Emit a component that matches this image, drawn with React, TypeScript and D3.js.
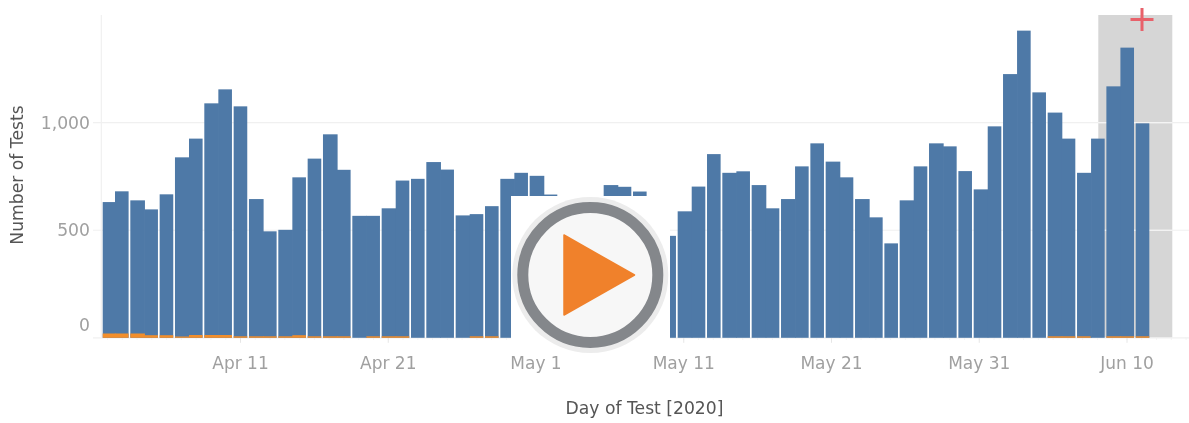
import React from "react";
import * as d3 from "d3";

const negativeTests = [631,681,639,597,667,839,926,1090,1155,1076,645,495,502,746,833,946,781,567,567,602,731,739,817,782,569,575,612,739,767,753,666,640,630,620,710,702,680,560,474,588,703,854,767,774,710,602,645,797,904,819,746,645,560,439,639,797,904,890,775,690,983,1226,1428,1141,1047,926,767,926,1169,1349,997];
const positiveTests = [20,20,20,12,12,6,13,13,13,7,7,7,7,12,7,7,7,0,7,7,7,0,0,0,0,7,7,0,0,0,0,0,0,0,0,0,0,0,0,0,0,0,0,0,0,0,0,0,0,0,0,0,0,0,0,0,0,0,0,0,0,0,0,0,7,7,7,0,7,7,7];
const firstDay = new Date(2020, 3, 2);
const days = negativeTests.map((_, i) => d3.timeDay.offset(firstDay, i));
const yTicks = [0, 500, 1000];
const xTickDates = [new Date(2020,3,11), new Date(2020,3,21), new Date(2020,4,1), new Date(2020,4,11), new Date(2020,4,21), new Date(2020,4,31), new Date(2020,5,10)];

const BLUE = "#4e79a7";
const ORANGE = "#f28e2b";
const FONT = "'DejaVu Sans', sans-serif";

export default function App() {
  const y = d3.scaleLinear().domain([0, 1000]).range([337.8, 122.7]);
  const x = d3.scaleTime().domain([xTickDates[0], xTickDates[6]]).range([240.5, 1127]);
  const grid = 1.2759;
  const slot = (i: number) => Math.round(0.64 + i * 11.592);
  const left = (i: number) => 99.69 + grid * slot(i);
  const barW = 13.6;
  const plotLeft = 102.7;
  const fmt = d3.timeFormat("%b %-d");
  const minorDays = d3.timeDay.range(new Date(2020,3,2), new Date(2020,5,15));
  return (
    <svg width={1189} height={423} style={{ position: "absolute", left: 0, top: 0, filter: "blur(0.45px)" }} fontFamily={FONT}>
      <rect width={1189} height={423} fill="#fff" />
      <rect x={1098.3} y={15} width={74} height={y(0) - 15} fill="#d6d6d6" />
      {yTicks.map((t) => (
        <line key={t} x1={93} x2={1189} y1={y(t)} y2={y(t)} stroke="#f0f0f0" strokeWidth={1.2} />
      ))}
      {yTicks.filter((t) => t > 0).map((t) => (
        <line key={t} x1={1098.3} x2={1172.3} y1={y(t)} y2={y(t)} stroke="#f4f4f4" strokeWidth={1.2} />
      ))}
      <line x1={101.3} x2={101.3} y1={15} y2={y(0)} stroke="#f0f0f0" strokeWidth={1.2} />
      {minorDays.map((d) => (
        <line key={+d} x1={x(d)} x2={x(d)} y1={y(0)} y2={y(0) + 2} stroke="#f2f2f2" />
      ))}
      {xTickDates.map((d) => (
        <line key={+d} x1={x(d)} x2={x(d)} y1={y(0)} y2={y(0) + 5} stroke="#e6e6e6" />
      ))}
      {days.map((d, i) => {
        const start = left(i);
        const l = Math.max(start, plotLeft);
        const touchesNext = i < days.length - 1 && slot(i + 1) - slot(i) === 11;
        const r = touchesNext ? left(i + 1) + 0.6 : start + barW;
        const w = r - l;
        return (
          <rect key={i} x={l} y={y(negativeTests[i])} width={w} height={y(0) - y(negativeTests[i])} fill={BLUE} />
        );
      })}
      {days.map((d, i) => {
        const start = left(i);
        const l = Math.max(start, plotLeft);
        const touchesNext = i < days.length - 1 && slot(i + 1) - slot(i) === 11 && positiveTests[i + 1] > 0;
        const r = touchesNext ? left(i + 1) + 0.6 : start + barW;
        const o = positiveTests[i];
        return o > 0 ? (
          <rect key={i} x={l} y={y(o)} width={r - l} height={y(0) - y(o)} fill={ORANGE} />
        ) : null;
      })}
      {yTicks.map((t) => (
        <text key={t} x={90} y={t === 0 ? y(t) - 13 : y(t)} dy="0.36em" textAnchor="end" fontSize={17.2} fill="#a0a0a0">{d3.format(",")(t)}</text>
      ))}
      {xTickDates.map((d) => (
        <text key={+d} x={x(d)} y={363} dy="0.36em" textAnchor="middle" fontSize={17} fill="#a0a0a0">{fmt(d)}</text>
      ))}
      <text transform="translate(17,175) rotate(-90)" dy="0.36em" textAnchor="middle" fontSize={17.2} fill="#555">Number of Tests</text>
      <text x={644.5} y={408} dy="0.36em" textAnchor="middle" fontSize={17.2} fill="#555">Day of Test [2020]</text>
      <path d="M1142 8V31M1130.5 19.5H1153.5" stroke="#e8616a" strokeWidth={3} fill="none" />
      <rect x={511} y={196} width={159} height={149} fill="#fff" />
      <circle cx={590.3} cy={275} r={78} fill="#ececec" />
      <circle cx={590.3} cy={275} r={67.5} fill="#f7f7f7" stroke="#84878b" strokeWidth={11} />
      <path d="M564 235L634.5 275L564 315Z" fill="#f0812b" stroke="#f0812b" strokeWidth={1.5} strokeLinejoin="round" />
    </svg>
  );
}
